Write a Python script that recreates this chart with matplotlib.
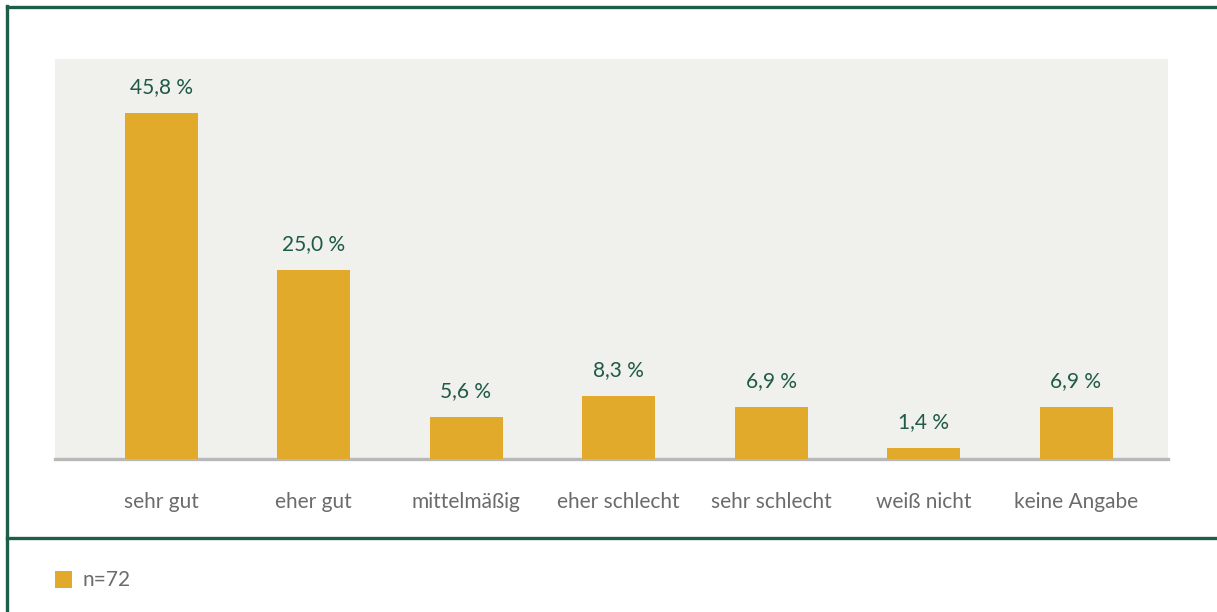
import matplotlib
matplotlib.use("Agg")
import matplotlib.pyplot as plt
from matplotlib.patches import Rectangle
from matplotlib.lines import Line2D

categories = ["sehr gut", "eher gut", "mittelmäßig", "eher schlecht",
              "sehr schlecht", "weiß nicht", "keine Angabe"]
values = [45.8, 25.0, 5.6, 8.3, 6.9, 1.4, 6.9]
value_labels = ["45,8 %", "25,0 %", "5,6 %", "8,3 %", "6,9 %", "1,4 %", "6,9 %"]
legend_label = "n=72"

W, H = 1217, 612
BAR = "#E2AA2A"
BG = "#F0F0EC"
GREEN = "#1E5E48"
VAL = "#1F5A45"
CAT = "#6B6B6B"
FONT = ["Lato", "DejaVu Sans"]
FS = 15

fig = plt.figure(figsize=(W / 100, H / 100), dpi=100)

def fx(px):
    return px / W

def fy(py):
    return 1 - py / H

# background panel (behind axes)
bg = Rectangle((fx(55), fy(459)), fx(1168) - fx(55), fy(59) - fy(459),
               transform=fig.transFigure, facecolor=BG, edgecolor="none", zorder=-5)
fig.add_artist(bg)

step = 152.5
ax_left, ax_right = 55, 1168
ax = fig.add_axes([fx(ax_left), fy(459), fx(ax_right) - fx(ax_left), fy(59) - fy(459)])
ax.set_zorder(2)
ax.set_facecolor("none")
xmin = -0.5 - ((161 - step / 2) - ax_left) / step
xmax = 6.5 + (ax_right - (1076 + step / 2)) / step
ax.set_xlim(xmin, xmax)
ppu = 346 / 45.8
ax.set_ylim(0, 400 / ppu)
for s in ax.spines.values():
    s.set_visible(False)
ax.set_xticks([])
ax.set_yticks([])

xs = list(range(len(categories)))
ax.axhline(0, color="#B8B8B8", lw=2.4, zorder=1, clip_on=False)
ax.bar(xs, values, width=73 / step, color=BAR, zorder=2)
for x, v, lab in zip(xs, values, value_labels):
    ax.text(x, v + 26 / ppu, lab, ha="center", va="center", fontsize=FS,
            color=VAL, family=FONT)
for x, c in zip(xs, categories):
    ax.text(x, -43 / ppu, c, ha="center", va="center", fontsize=FS,
            color=CAT, family=FONT, clip_on=False)

# frame lines
for xd, yd in [([7, 1217], [7, 7]), ([7, 7], [6, 612]), ([7, 1217], [538, 538])]:
    fig.add_artist(Line2D([fx(v) for v in xd], [fy(v) for v in yd], color=GREEN,
                          lw=2.4, transform=fig.transFigure))

# legend
fig.add_artist(Rectangle((fx(55), fy(588)), fx(72) - fx(55), fy(571) - fy(588),
                         transform=fig.transFigure, facecolor=BAR, edgecolor="none"))
fig.text(fx(82), fy(580), legend_label, ha="left", va="center", fontsize=FS,
         color=CAT, family=FONT)

fig.savefig("out.png", dpi=100)
